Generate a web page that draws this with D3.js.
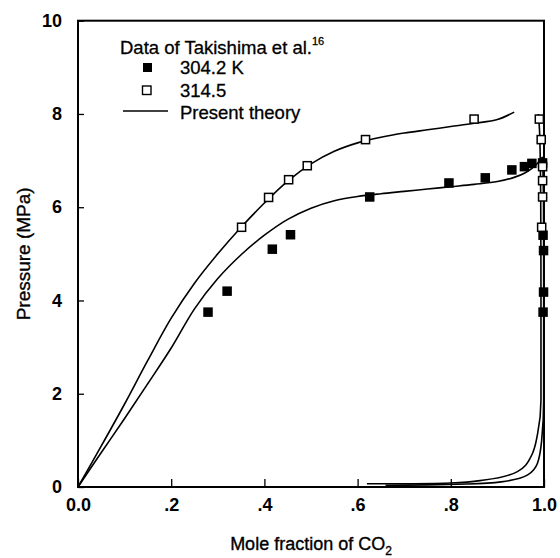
<!DOCTYPE html>
<html><head><meta charset="utf-8">
<script src="https://cdn.jsdelivr.net/npm/d3@7"></script>
<style>
body{margin:0;background:#fff;}
text{font-family:"Liberation Sans",Arial,Helvetica,sans-serif;fill:#000;}
</style></head>
<body><svg id="chart" width="560" height="558"></svg>
<script>
// ---- data ----
const xTicks = [0, 0.2, 0.4, 0.6, 0.8, 1.0];
const xTickLabels = ["0.0", ".2", ".4", ".6", ".8", "1.0"];
const yTicks = [0, 2, 4, 6, 8, 10];
const yTickLabels = ["0", "2", "4", "6", "8", "10"];

// experimental data, 304.2 K (filled squares)
const data304x = [0.279, 0.320, 0.417, 0.456, 0.626, 0.796, 0.874, 0.931, 0.958, 0.974, 0.997, 0.998, 0.999, 0.999, 0.998];
const data304p = [3.75, 4.20, 5.10, 5.41, 6.22, 6.52, 6.63, 6.80, 6.87, 6.94, 6.95, 5.40, 5.07, 4.18, 3.75];
// experimental data, 314.5 K (open squares)
const data314x = [0.351, 0.409, 0.452, 0.492, 0.617, 0.850, 0.990, 0.994, 0.997, 0.997, 0.997, 0.995];
const data314p = [5.57, 6.21, 6.59, 6.89, 7.45, 7.89, 7.89, 7.45, 6.87, 6.57, 6.22, 5.57];

// theory curves: liquid branches
const liq304x = [0, 0.05, 0.10, 0.15, 0.20, 0.25, 0.30, 0.35, 0.40, 0.45, 0.50, 0.55, 0.60, 0.65, 0.70, 0.75, 0.80, 0.85, 0.90, 0.936, 0.96, 0.98, 0.997];
const liq304p = [0, 0.74, 1.47, 2.22, 2.98, 3.82, 4.47, 4.98, 5.40, 5.74, 5.98, 6.14, 6.23, 6.29, 6.34, 6.39, 6.44, 6.49, 6.55, 6.64, 6.74, 6.88, 7.08];
const liq314x = [0, 0.05, 0.10, 0.15, 0.20, 0.25, 0.30, 0.35, 0.40, 0.45, 0.50, 0.55, 0.60, 0.65, 0.70, 0.75, 0.80, 0.85, 0.90, 0.936];
const liq314p = [0, 0.88, 1.78, 2.72, 3.62, 4.37, 5.00, 5.57, 6.09, 6.56, 6.93, 7.20, 7.38, 7.50, 7.59, 7.66, 7.73, 7.80, 7.88, 8.04];
// theory curves: vapour branches
const vap304x = [0.997, 0.9990, 0.9993, 0.9993, 0.995, 0.986, 0.965, 0.908, 0.836, 0.75, 0.66];
const vap304p = [7.08, 6.0, 4.0, 1.86, 1.0, 0.51, 0.26, 0.11, 0.064, 0.045, 0.035];
const vap314x = [0.988, 0.991, 0.993, 0.9935, 0.9935, 0.9864, 0.972, 0.943, 0.872, 0.80, 0.70, 0.62];
const vap314p = [8.00, 7.5, 6.0, 4.0, 1.86, 1.15, 0.65, 0.33, 0.15, 0.085, 0.07, 0.07];

const legendTitle = "Data of Takishima et al.";
const legendRef = "16";
const legendLabels = ["304.2 K", "314.5", "Present theory"];

// ---- drawing ----
const svg = d3.select("#chart");
const L = 78, R = 544, T = 20.7, B = 487;
const x = d3.scaleLinear().domain([0, 1]).range([L, R]);
const y = d3.scaleLinear().domain([0, 10]).range([B, T]);

const zip = (xs, ys) => xs.map((v, i) => [v, ys[i]]);

// frame
svg.append("rect").attr("x", L).attr("y", T).attr("width", R - L).attr("height", B - T)
  .attr("fill", "none").attr("stroke", "#000").attr("stroke-width", 2);

// axes (ticks inward)
const xAxis = d3.axisBottom(x).tickValues(xTicks).tickFormat((d, i) => xTickLabels[i]).tickSizeInner(-8).tickSizeOuter(0).tickPadding(20);
const gx = svg.append("g").attr("transform", `translate(0,${B})`).call(xAxis);
gx.select(".domain").remove();
gx.selectAll("line").attr("stroke-width", 1.3);
gx.selectAll("text").attr("font-size", 18).attr("font-weight", "bold").attr("dy", "0.2em");

const yAxis = d3.axisLeft(y).tickValues(yTicks).tickFormat((d, i) => yTickLabels[i]).tickSizeInner(-6).tickSizeOuter(0).tickPadding(16);
const gy = svg.append("g").attr("transform", `translate(${L},0)`).call(yAxis);
gy.select(".domain").remove();
gy.selectAll("line").attr("stroke-width", 1.3);
gy.selectAll("text").attr("font-size", 18).attr("font-weight", "bold");

// axis titles
const xt = svg.append("text").attr("x", (L + R) / 2).attr("y", 550).attr("text-anchor", "middle")
  .attr("font-size", 18).attr("stroke", "#000").attr("stroke-width", 0.35);
xt.append("tspan").text("Mole fraction of CO");
xt.append("tspan").attr("font-size", 12).attr("dy", 5).text("2");

svg.append("text").attr("transform", `translate(30,${(T + B) / 2}) rotate(-90)`).attr("text-anchor", "middle")
  .attr("font-size", 19).attr("stroke", "#000").attr("stroke-width", 0.35).text("Pressure (MPa)");

// curves
const lineX = d3.line().x(d => x(d[0])).y(d => y(d[1])).curve(d3.curveCatmullRom.alpha(0.5));
const lineY = d3.line().x(d => x(d[0])).y(d => y(d[1])).curve(d3.curveMonotoneY);
const curves = svg.append("g").attr("fill", "none").attr("stroke", "#000").attr("stroke-width", 1.6);
curves.append("path").attr("d", lineX(zip(liq304x, liq304p)));
curves.append("path").attr("d", lineX(zip(liq314x, liq314p)));
curves.append("path").attr("d", lineY(zip(vap304x, vap304p).reverse()));
curves.append("path").attr("d", lineY(zip(vap314x, vap314p).reverse()));

// markers
const S = 9.5;
svg.append("g").selectAll("rect").data(zip(data304x, data304p)).join("rect")
  .attr("x", d => x(d[0]) - S / 2).attr("y", d => y(d[1]) - S / 2).attr("width", S).attr("height", S)
  .attr("fill", "#000");
svg.append("g").selectAll("rect").data(zip(data314x, data314p)).join("rect")
  .attr("x", d => x(d[0]) - S / 2 + 0.7).attr("y", d => y(d[1]) - S / 2 + 0.7).attr("width", S - 1.4).attr("height", S - 1.4)
  .attr("fill", "#fff").attr("stroke", "#000").attr("stroke-width", 1.5);

// legend
const lg = svg.append("g");
const tt = lg.append("text").attr("x", 120).attr("y", 54).attr("font-size", 18.5).attr("stroke", "#000").attr("stroke-width", 0.3);
tt.append("tspan").text(legendTitle);
tt.append("tspan").attr("font-size", 11).attr("dy", -9).text(legendRef);
lg.append("rect").attr("x", 143).attr("y", 63).attr("width", 9).attr("height", 9).attr("fill", "#000");
lg.append("rect").attr("x", 142.5).attr("y", 86).attr("width", 8.5).attr("height", 8.5).attr("fill", "#fff").attr("stroke", "#000").attr("stroke-width", 1.4);
lg.append("line").attr("x1", 123).attr("x2", 168).attr("y1", 111).attr("y2", 111).attr("stroke", "#000").attr("stroke-width", 1.5);
const ly = [74, 97, 119];
legendLabels.forEach((t, i) => {
  lg.append("text").attr("x", 180).attr("y", ly[i]).attr("font-size", 18.5).attr("stroke", "#000").attr("stroke-width", 0.3).text(t);
});
</script></body></html>
